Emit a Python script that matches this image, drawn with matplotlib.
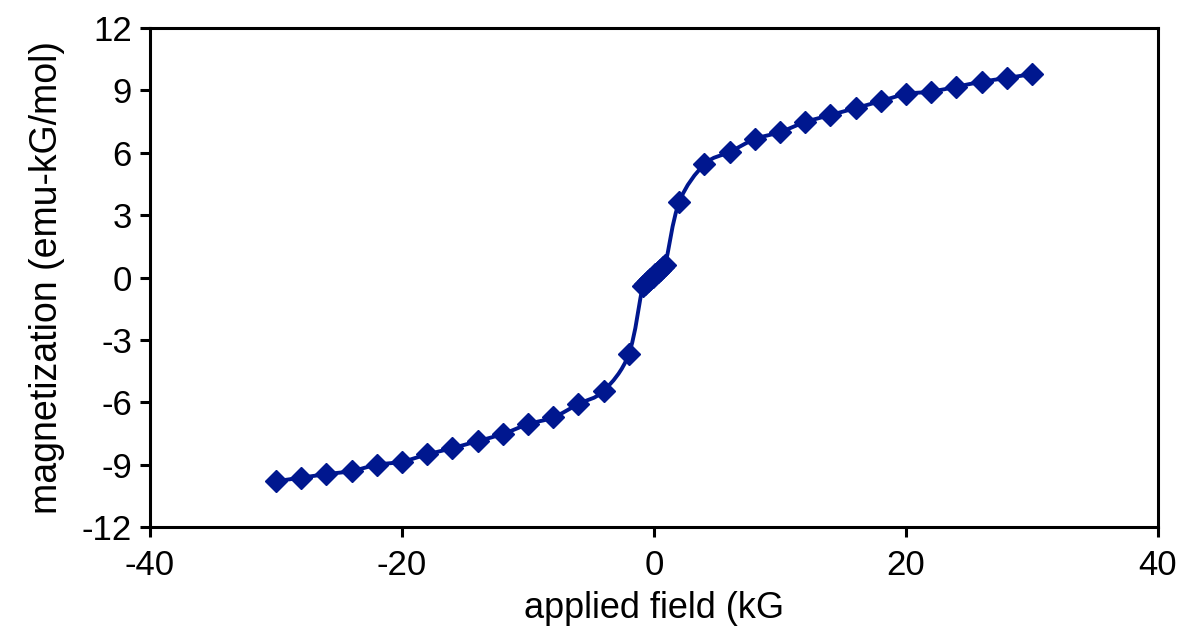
import numpy as np
import matplotlib
matplotlib.use("Agg")
import matplotlib.pyplot as plt
from matplotlib.path import Path
from matplotlib.patches import PathPatch

# applied field (kG) and magnetization (emu-kG/mol)
field = [-30, -28, -26, -24, -22, -20, -18, -16, -14, -12, -10, -8, -6, -4, -2,
         -0.9, -0.7, -0.5, -0.3, -0.1, 0.1, 0.3, 0.5, 0.7, 0.9,
         2, 4, 6, 8, 10, 12, 14, 16, 18, 20, 22, 24, 26, 28, 30]
magnet = [-9.79, -9.62, -9.45, -9.3, -9.0, -8.85, -8.5, -8.2, -7.86, -7.52, -7.05, -6.72, -6.08, -5.45, -3.68,
          -0.42, -0.3, -0.18, -0.07, 0.05, 0.16, 0.27, 0.38, 0.5, 0.62,
          3.63, 5.45, 6.04, 6.66, 7.0, 7.48, 7.82, 8.15, 8.49, 8.83, 8.95, 9.18, 9.42, 9.6, 9.79]

x_ticks = [-40, -20, 0, 20, 40]
y_ticks = [-12, -9, -6, -3, 0, 3, 6, 9, 12]

BLUE = "#00178F"

plt.rcParams['font.family'] = ['Liberation Sans', 'DejaVu Sans']
plt.rcParams['axes.unicode_minus'] = False

fig = plt.figure(figsize=(11.81, 6.39), dpi=100)
ax = fig.add_axes([0.127, 0.175, 0.8535, 0.781])


def smooth_path(xs, ys, tension=1 / 6):
    """Excel-like smoothed line: Catmull-Rom segments as cubic Beziers in data space"""
    pts = np.column_stack([xs, ys]).astype(float)
    verts = [pts[0]]
    codes = [Path.MOVETO]
    n = len(pts)
    for i in range(n - 1):
        p0 = pts[i - 1] if i > 0 else pts[i]
        p1 = pts[i]
        p2 = pts[i + 1]
        p3 = pts[i + 2] if i + 2 < n else pts[i + 1]
        c1 = p1 + (p2 - p0) * tension
        c2 = p2 - (p3 - p1) * tension
        verts += [c1, c2, p2]
        codes += [Path.CURVE4] * 3
    return Path(verts, codes)


ax.add_patch(PathPatch(smooth_path(field, magnet), facecolor='none',
                       edgecolor=BLUE, linewidth=2.8, zorder=2))
ax.plot(field, magnet, linestyle='none', marker='D', markersize=11.5,
        color=BLUE, markeredgecolor=BLUE, zorder=3)

ax.set_xlim(-40, 40)
ax.set_ylim(-12, 12)
ax.set_xticks(x_ticks)
ax.set_yticks(y_ticks)

for s in ax.spines.values():
    s.set_linewidth(2.2)
ax.tick_params(direction='out', length=7, width=2.2, labelsize=25)
ax.tick_params(axis='x', pad=9)
ax.tick_params(axis='y', pad=6)

ax.set_xlabel('applied field (kG', fontsize=26, labelpad=6)
ax.set_ylabel('magnetization (emu-kG/mol)', fontsize=27, labelpad=12)

fig.savefig('out.png', dpi=100)
